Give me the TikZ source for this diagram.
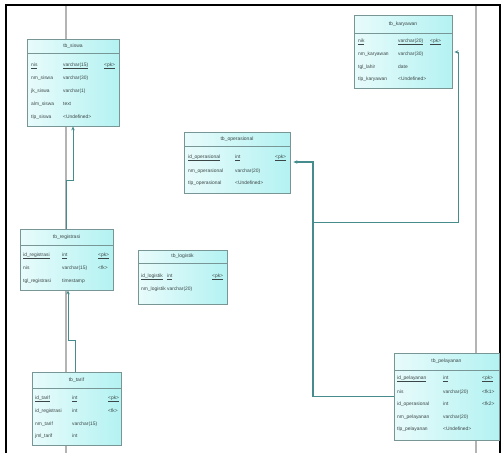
\documentclass[tikz,border=0pt]{standalone}
\usepackage{fontspec}
\setmainfont{Liberation Sans}
\usetikzlibrary{fit,arrows.meta}
\definecolor{tblborder}{RGB}{120,150,150}
\definecolor{tblleft}{RGB}{232,251,251}
\definecolor{tblright}{RGB}{180,242,242}
\definecolor{fkcol}{RGB}{70,140,140}
\definecolor{pagecol}{RGB}{180,180,180}
\definecolor{txtcol}{RGB}{60,70,70}
\tikzset{
  x=1pt, y=-1pt,
  tblbox/.style={draw=tblborder, line width=0.8pt, inner sep=0pt, left color=tblleft, right color=tblright},
  sepline/.style={draw=tblborder, line width=0.6pt},
  ttl/.style={font=\fontsize{5}{6}\selectfont, text=txtcol, inner sep=0pt},
  cell/.style={font=\fontsize{4.9}{6}\selectfont, text=txtcol, inner sep=0pt, anchor=west},
  fk/.style={draw=fkcol, line width=1pt, -{Stealth[length=4pt,width=3.5pt]}},
  pageline/.style={draw=pagecol, line width=1.2pt},
  framel/.style={draw=black, line width=2pt}
}
\newcommand\erTable[7]{%
  \node[tblbox, fit={(#2,#3) (#4,#5)}] (#1) {};
  \path[sepline] (#2,#6) -- (#4,#6);
  \node[ttl] (#1-title) at ({(#2+#4)/2},{(#3+#6)/2}) {#7};
}
\begin{document}
\begin{tikzpicture}
\useasboundingbox (0,0) rectangle (502,453);
% frame
\draw[framel] (6,453) -- (6,5) -- (500,5) -- (500,453);
% page boundary lines
\draw[pageline] (66,6) -- (66,453);
\draw[pageline] (476,6) -- (476,453);

% tables
\erTable{siswa}{27}{39}{119}{126}{53}{tb\_siswa}
\node[cell] (siswa-1a) at (31,66) {\underline{nis}};
\node[cell] (siswa-1b) at (63,66) {\underline{varchar(15)}};
\node[cell] (siswa-1c) at (104,66) {\underline{<pk>}};
\node[cell] (siswa-2a) at (31,78) {nm\_siswa};
\node[cell] (siswa-2b) at (63,78) {varchar(30)};
\node[cell] (siswa-3a) at (31,91) {jk\_siswa};
\node[cell] (siswa-3b) at (63,91) {varchar(1)};
\node[cell] (siswa-4a) at (31,104) {alm\_siswa};
\node[cell] (siswa-4b) at (63,104) {text};
\node[cell] (siswa-5a) at (31,117) {tlp\_siswa};
\node[cell] (siswa-5b) at (63,117) {<Undefined>};

\erTable{karyawan}{354}{15}{452}{88}{33}{tb\_karyawan}
\node[cell] (kar-1a) at (358,42) {\underline{nik}};
\node[cell] (kar-1b) at (398,42) {\underline{varchar(20)}};
\node[cell] (kar-1c) at (430,42) {\underline{<pk>}};
\node[cell] (kar-2a) at (358,54) {nm\_karyawan};
\node[cell] (kar-2b) at (398,54) {varchar(30)};
\node[cell] (kar-3a) at (358,67) {tgl\_lahir};
\node[cell] (kar-3b) at (398,67) {date};
\node[cell] (kar-4a) at (358,79) {tlp\_karyawan};
\node[cell] (kar-4b) at (398,79) {<Undefined>};

\erTable{operasional}{184}{132}{290}{193}{146}{tb\_operasional}
\node[cell] (op-1a) at (188,158) {\underline{id\_operasional}};
\node[cell] (op-1b) at (235,158) {\underline{int}};
\node[cell] (op-1c) at (275,158) {\underline{<pk>}};
\node[cell] (op-2a) at (188,171) {nm\_operasional};
\node[cell] (op-2b) at (235,171) {varchar(20)};
\node[cell] (op-3a) at (188,183) {tlp\_operasional};
\node[cell] (op-3b) at (235,183) {<Undefined>};

\erTable{registrasi}{20}{229}{113}{290}{245}{tb\_registrasi}
\node[cell] (reg-1a) at (23,256) {\underline{id\_registrasi}};
\node[cell] (reg-1b) at (62,256) {\underline{int}};
\node[cell] (reg-1c) at (98,256) {\underline{<pk>}};
\node[cell] (reg-2a) at (23,268) {nis};
\node[cell] (reg-2b) at (62,268) {varchar(15)};
\node[cell] (reg-2c) at (98,268) {<fk>};
\node[cell] (reg-3a) at (23,281) {tgl\_registrasi};
\node[cell] (reg-3b) at (62,281) {timestamp};

\erTable{logistik}{138}{250}{227}{304}{263}{tb\_logistik}
\node[cell] (log-1a) at (141,277) {\underline{id\_logistik}};
\node[cell] (log-1b) at (167,277) {\underline{int}};
\node[cell] (log-1c) at (212,277) {\underline{<pk>}};
\node[cell] (log-2a) at (141,289) {nm\_logistik};
\node[cell] (log-2b) at (167,289) {varchar(20)};

\erTable{tarif}{32}{372}{121}{445}{388}{tb\_tarif}
\node[cell] (tar-1a) at (35,399) {\underline{id\_tarif}};
\node[cell] (tar-1b) at (72,399) {\underline{int}};
\node[cell] (tar-1c) at (108,399) {\underline{<pk>}};
\node[cell] (tar-2a) at (35,411) {id\_registrasi};
\node[cell] (tar-2b) at (72,411) {int};
\node[cell] (tar-2c) at (108,411) {<fk>};
\node[cell] (tar-3a) at (35,424) {nm\_tarif};
\node[cell] (tar-3b) at (72,424) {varchar(15)};
\node[cell] (tar-4a) at (35,436) {jml\_tarif};
\node[cell] (tar-4b) at (72,436) {int};

\erTable{pelayanan}{394}{353}{499}{440}{370}{tb\_pelayanan}
\node[cell] (pel-1a) at (397,379) {\underline{id\_pelayanan}};
\node[cell] (pel-1b) at (443,379) {\underline{int}};
\node[cell] (pel-1c) at (482,379) {\underline{<pk>}};
\node[cell] (pel-2a) at (397,392) {nis};
\node[cell] (pel-2b) at (443,392) {varchar(20)};
\node[cell] (pel-2c) at (482,392) {<fk1>};
\node[cell] (pel-3a) at (397,404) {id\_operasional};
\node[cell] (pel-3b) at (443,404) {int};
\node[cell] (pel-3c) at (482,404) {<fk2>};
\node[cell] (pel-4a) at (397,417) {nm\_pelayanan};
\node[cell] (pel-4b) at (443,417) {varchar(20)};
\node[cell] (pel-5a) at (397,429) {tlp\_pelayanan};
\node[cell] (pel-5b) at (443,429) {<Undefined>};

% connectors
\coordinate (rsA) at (66,180);
\coordinate (rsB) at (73,180);
\draw[fk] (registrasi.north -| rsA) -- (rsA) -- (rsB) -- (siswa.south -| rsB);

\coordinate (trA) at (75,340);
\coordinate (trB) at (68,340);
\draw[fk] (tarif.north -| trA) -- (trA) -- (trB) -- (registrasi.south -| trB);

\coordinate (j2) at (313,162);
\coordinate (j3) at (313,222);
\coordinate (j4) at (458,222);
\coordinate (j5) at (458,52);
\draw[fk, line width=1.2pt] (pelayanan.west) -- (pelayanan.west -| j2) -- (j2) -- ([xshift=3pt]operasional.east |- j2);
\draw[fk] (pelayanan.west) -- (pelayanan.west -| j3) -- (j3) -- (j4) -- (j5) -- ([xshift=2pt]karyawan.east |- j5);
\end{tikzpicture}
\end{document}
